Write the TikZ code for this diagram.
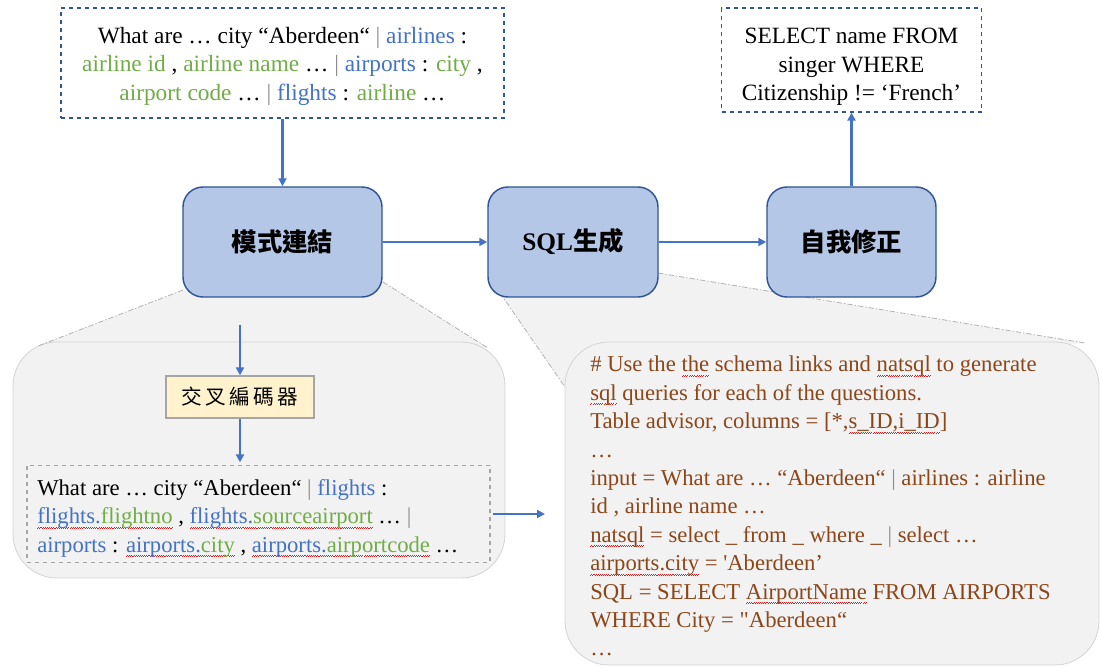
\documentclass[tikz,border=0pt]{standalone}
\usepackage{fontspec}
\setmainfont{Liberation Serif}[Ligatures=TeXOff]
\newfontfamily\cjk{Noto Sans CJK TC}
\usetikzlibrary{arrows.meta}

\definecolor{nodefill}{HTML}{B4C7E7}
\definecolor{nodeline}{HTML}{2F5597}
\definecolor{arrowblue}{HTML}{4472C4}
\definecolor{tblue}{HTML}{4472C4}
\definecolor{tgreen}{HTML}{70AD47}
\definecolor{tbrown}{RGB}{140,70,25}
\definecolor{bargray}{HTML}{8C8C8C}
\definecolor{panel}{HTML}{F2F2F2}
\definecolor{panelline}{HTML}{D3D3D3}
\definecolor{encfill}{HTML}{FFF2CC}
\definecolor{encline}{HTML}{A5A5A5}
\definecolor{wavered}{HTML}{E02020}

% coloured words and the spell-check wave
\newcommand\bl[1]{\textcolor{tblue}{#1}}
\newcommand\gr[1]{\textcolor{tgreen}{#1}}
\newcommand\sep{\textcolor{bargray}{|}}
\newcommand\squig[1]{\leavevmode\setbox0\hbox{#1}%
  \rlap{\textcolor{wavered}{\hbox to\wd0{\xleaders\hbox{\rule[-3.4pt]{0.8pt}{0.5pt}\rule[-2.6pt]{0.8pt}{0.5pt}}\hfill}}}%
  \box0\relax}

\tikzset{
  stage/.style={draw=nodeline, line width=1.1pt, fill=nodefill, rounded corners=15pt,
    minimum height=82.5pt, inner sep=0pt, font=\fontsize{19}{22}\selectfont},
  dashframe/.style={draw=nodeline, line width=0.9pt, dashed, fill=white, inner sep=0pt},
  boxtext/.style={align=center, inner sep=0pt, font=\fontsize{17.5}{21.4}\selectfont},
  flow/.style={draw=arrowblue, line width=1.6pt, -{Triangle[length=6pt,width=6pt]}},
  wedgeline/.style={draw=black!30, line width=0.6pt, dash pattern=on 4pt off 1.5pt on 1pt off 1.5pt},
  panelbox/.style={draw=panelline, line width=0.6pt, fill=panel, rounded corners=33pt},
}

\begin{document}
\begin{tikzpicture}[x=0.75pt, y=-0.75pt]
\useasboundingbox (0,0) rectangle (1101,666);

% ---- zoom panels behind the stages ----
\fill[panel] (183,290) -- (38,346) -- (488,348) -- (383,282) -- cycle;
\fill[panel] (500,293) -- (565,387) -- (1085,343) -- (658,273) -- cycle;
\draw[panelbox] (13,342) rectangle (505,578);
\draw[panelbox] (565,342) rectangle (1099,665);
\draw[wedgeline] (183,290) -- (38,346);
\draw[wedgeline] (383,282) -- (488,348);
\draw[wedgeline] (500,293) -- (565,387);
\draw[wedgeline] (658,273) -- (1085,343);

% ---- main pipeline ----
\node[stage, minimum width=149.25pt] (n1) at (282.5,242) {{\cjk\bfseries 模式連結}};
\node[stage, minimum width=127.5pt] (n2) at (573,242) {{\bfseries SQL}{\cjk\bfseries 生成}};
\node[stage, minimum width=126.75pt] (n3) at (851.5,242) {{\cjk\bfseries 自我修正}};

\node[dashframe, minimum width=332.25pt, minimum height=82.5pt] (tq) at (282.5,63) {};
\node[boxtext] (tqtext) at (282.5,66)
  {What are … city “Aberdeen“ \sep{} \bl{airlines} :\\
   \gr{airline id} , \gr{airline name} … \sep{} \bl{airports} : \gr{city} ,\\
   \gr{airport code} … \sep{} \bl{flights} : \gr{airline} …};

\node[dashframe, minimum width=195pt, minimum height=78pt] (out) at (851.5,60) {};
\node[boxtext] (outtext) at (851.5,67)
  {SELECT name FROM\\ singer WHERE\\ Citizenship != ‘French’};

\draw[flow] (tq.south) -- (n1.north);
\draw[flow] (n1.east) -- (n2.west);
\draw[flow] (n2.east) -- (n3.west);
\draw[flow] (n3.north) -- (out.south);

% ---- schema linking detail ----
\coordinate (encin) at (240,325);
\node[draw=encline, line width=1pt, fill=encfill, minimum width=111pt, minimum height=31.5pt,
  inner sep=0pt, font=\cjk\fontsize{15.5}{18}\selectfont] (enc) at (240,397)
  {交\,叉\,編\,碼\,器};
\node[draw=black!35, line width=0.8pt, dashed, minimum width=347.25pt, minimum height=72.75pt,
  inner sep=0pt] (lnk) at (258.5,514) {};
\node[anchor=north west, align=left, inner sep=0pt, font=\fontsize{17}{21.4}\selectfont]
  (lnktext) at (37,479)
  {What are … city “Aberdeen“ \sep{} \bl{flights} :\\
   \squig{\bl{flights.}\gr{flightno}} , \squig{\bl{flights.}\gr{sourceairport}} … \sep\\
   \bl{airports} : \squig{\bl{airports.}\gr{city}} , \squig{\bl{airports.}\gr{airportcode}} …};
\coordinate (lnkout) at (545,514);

\draw[flow] (encin) -- (enc.north);
\draw[flow, shorten >=2pt] (enc.south) -- (enc.south |- lnk.north);
\draw[flow] ([xshift=2pt]lnk.east) -- (lnkout);

% ---- SQL generation prompt ----
\node[anchor=north west, align=left, inner sep=0pt, text=tbrown,
  font=\fontsize{17}{21.3}\selectfont] (prompt) at (590,356)
  {\# Use the \squig{the} schema links and \squig{natsql} to generate\\
   \squig{sql} queries for each of the questions.\\
   Table advisor, columns = [*,\squig{s\_ID,i\_ID}]\\
   …\\
   input = What are … “Aberdeen“ \sep{} airlines : airline\\
   id , airline name …\\
   \squig{natsql} = select \_ from \_ where \_ \sep{} select …\\
   \squig{airports.city} = 'Aberdeen’\\
   SQL = SELECT \squig{AirportName} FROM AIRPORTS\\
   WHERE City = "Aberdeen“\\
   …};
\end{tikzpicture}
\end{document}
